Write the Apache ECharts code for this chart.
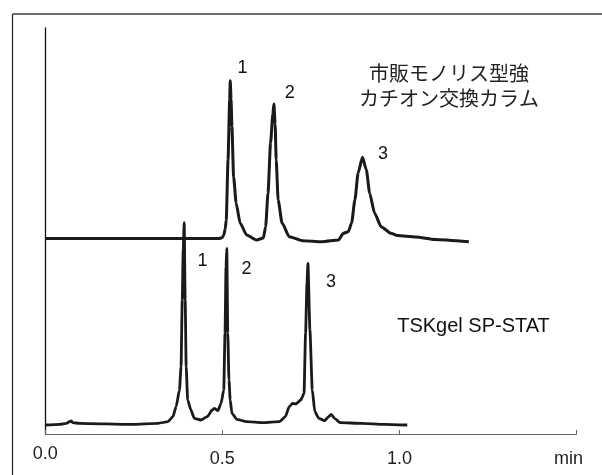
<!DOCTYPE html>
<html>
<head>
<meta charset="utf-8">
<script src="https://cdn.jsdelivr.net/npm/echarts@6/dist/echarts.min.js"></script>
<style>
html,body{margin:0;padding:0;background:#fff;}
#chart{width:602px;height:475px;}
</style>
</head>
<body>
<div id="chart"></div>
<script>
// Upper trace: commercial monolith strong cation-exchange column (time in min, signal offset)
const upperTime = [0.0, 0.43, 0.491, 0.5, 0.504, 0.508, 0.511, 0.516, 0.5206, 0.5222, 0.5245, 0.527, 0.5317, 0.5389, 0.55, 0.5686, 0.5964, 0.6158,
  0.6222, 0.6289, 0.6361, 0.6425, 0.6456, 0.649, 0.652, 0.6575, 0.6686, 0.6889, 0.7261, 0.7817, 0.8278, 0.8417, 0.8556, 0.865,
  0.8742, 0.8833, 0.8956, 0.9067, 0.9158, 0.9297, 0.9483, 0.9761, 0.9936, 1.0464, 1.1006, 1.196];
const upperSignal = [195.5, 195.5, 195.5, 196.5, 199, 205, 214, 274, 334, 353.3, 335, 307.3, 257.3, 231, 211, 199, 194, 196,
  207.3, 241, 291, 320, 330, 310, 274, 234, 211, 197.3, 193.3, 192.3, 194, 200.7, 202.3, 211,
  234, 261, 276.7, 264, 241, 221, 207.3, 200.7, 198.5, 197, 194.6, 192.2];

// Lower trace: TSKgel SP-STAT
const lowerTime = [0.0, 0.041, 0.0594, 0.0686, 0.0733, 0.0778, 0.0964, 0.2444, 0.3186, 0.3464, 0.3603, 0.3694, 0.3789,
  0.3833, 0.3867, 0.3894, 0.3922, 0.395, 0.3978, 0.402, 0.4111, 0.4206, 0.4389, 0.4575, 0.4714, 0.4778, 0.4872,
  0.4964, 0.5039, 0.5075, 0.5103, 0.5125, 0.5153, 0.5186, 0.5222, 0.527, 0.5408, 0.5686, 0.615, 0.6611, 0.6778,
  0.6889, 0.6983, 0.7075, 0.7214, 0.7306, 0.735, 0.7389, 0.7417, 0.7472, 0.7539, 0.7611, 0.7722, 0.7889, 0.8,
  0.8075, 0.8167, 0.8325, 0.8928, 0.9575, 1.0222];
const lowerSignal = [9, 9.7, 10.7, 12.3, 13, 11.3, 10.7, 9.7, 10.7, 12.3, 17.3, 27.3, 44,
  67.3, 134, 184, 211.3, 134, 67.3, 34, 24, 15.7, 14, 17.3, 24, 25.7, 23.3,
  30.7, 44, 101, 167.3, 185.7, 101, 54, 34, 20.7, 14.7, 12.3, 11.3, 12.3, 17.3,
  27.3, 30.7, 30, 34, 40.7, 101, 151, 170.7, 104, 44, 22.3, 15.7, 13.3, 17.3,
  19.7, 15.7, 11.3, 10.7, 9.7, 9];

const xTicks = [0, 0.5, 1.0, 1.5];
const xTickLabels = ['0.0', '0.5', '1.0', 'min'];
const peakLabels = ['1', '2', '3'];
const upperName = ['市販モノリス型強', 'カチオン交換カラム'];
const lowerName = 'TSKgel SP-STAT';

function pairs(t, v) { return t.map((x, i) => [x, v[i]]); }

const chart = echarts.init(document.getElementById('chart'), null, {renderer: 'canvas'});
const FONT = '"Liberation Sans", Arial, sans-serif';
const labelFont = '18px ' + FONT;
const cjkFont = '20px "Noto Sans CJK JP", sans-serif';

const upperLabelPos = [[242.6, 68.5], [289.8, 93], [383, 154]];
const lowerLabelPos = [[202.5, 261], [246.5, 269], [331, 282.5]];

const graphics = [
  {type: 'line', shape: {x1: 12.5, y1: 14, x2: 602, y2: 14}, style: {stroke: '#6e6e6e', lineWidth: 1.8}, silent: true},
  {type: 'line', shape: {x1: 12.5, y1: 14, x2: 12.5, y2: 475}, style: {stroke: '#222', lineWidth: 1.2}, silent: true}
];
peakLabels.forEach((p, i) => {
  graphics.push({type: 'text', x: upperLabelPos[i][0], y: upperLabelPos[i][1],
    style: {text: p, font: labelFont, fill: '#111', align: 'center', verticalAlign: 'middle'}});
  graphics.push({type: 'text', x: lowerLabelPos[i][0], y: lowerLabelPos[i][1],
    style: {text: p, font: labelFont, fill: '#111', align: 'center', verticalAlign: 'middle'}});
});
graphics.push({type: 'text', x: 449, y: 73.5,
  style: {text: upperName[0], font: cjkFont, fill: '#222', align: 'center', verticalAlign: 'middle'}});
graphics.push({type: 'text', x: 449, y: 98.5,
  style: {text: upperName[1], font: cjkFont, fill: '#222', align: 'center', verticalAlign: 'middle'}});
graphics.push({type: 'text', x: 473.5, y: 326,
  style: {text: lowerName, font: '20px ' + FONT, fill: '#111', align: 'center', verticalAlign: 'middle'}});

chart.setOption({
  animation: false,
  backgroundColor: '#fff',
  grid: {left: 45.3, right: 16.5, top: 28, bottom: 41, containLabel: false},
  xAxis: {
    type: 'value', min: 0, max: 1.5, interval: 0.5,
    axisLine: {show: true, lineStyle: {color: '#666', width: 1}},
    axisTick: {show: true, inside: true, length: 4, lineStyle: {color: '#666', width: 1}},
    splitLine: {show: false},
    axisLabel: {
      margin: 16,
      formatter: function (v) {
        const i = xTicks.findIndex(t => Math.abs(t - v) < 1e-9);
        const s = i >= 0 ? xTickLabels[i] : '';
        if (i === 0) return '{a|' + s + '}';
        if (i === 3) return '{m|' + s + '}';
        return '{b|' + s + '}';
      },
      rich: {
        a: {fontSize: 18, fontFamily: FONT, color: '#222', lineHeight: 8},
        b: {fontSize: 18, fontFamily: FONT, color: '#222', lineHeight: 18},
        m: {fontSize: 18, fontFamily: FONT, color: '#222', lineHeight: 18, padding: [0, 16, 0, 0]}
      }
    }
  },
  yAxis: {
    type: 'value', min: 0, max: 406,
    axisLine: {show: true, lineStyle: {color: '#111', width: 1.3}},
    axisTick: {show: false}, axisLabel: {show: false}, splitLine: {show: false}
  },
  series: [
    {type: 'line', name: upperName.join(''), data: pairs(upperTime, upperSignal), showSymbol: false,
      lineStyle: {color: '#1a1a1a', width: 3}, smooth: 0.2, smoothMonotone: 'x'},
    {type: 'line', name: lowerName, data: pairs(lowerTime, lowerSignal), showSymbol: false,
      lineStyle: {color: '#1a1a1a', width: 2.8}, smooth: 0.2, smoothMonotone: 'x'}
  ],
  graphic: graphics
});
</script>
</body>
</html>
